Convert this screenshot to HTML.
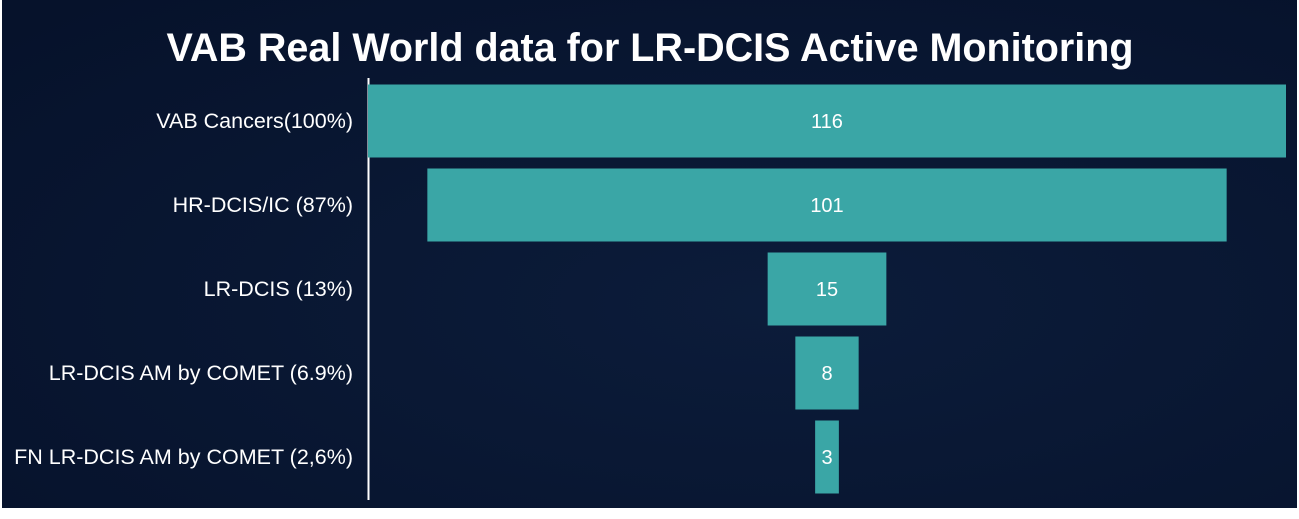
<!DOCTYPE html>
<html><head><meta charset="utf-8"><style>
html,body{margin:0;padding:0;background:#fff;}
body{width:1299px;height:514px;overflow:hidden;font-family:"Liberation Sans",Arial,sans-serif;}
</style></head><body>
<svg id="chart" width="1299" height="514" xmlns="http://www.w3.org/2000/svg">
<defs><radialGradient id="bg" cx="0.6" cy="0.6" r="0.8"><stop offset="0" stop-color="#0c1c3a"/><stop offset="1" stop-color="#06122b"/></radialGradient></defs>
<rect x="2" y="0" width="1295" height="508" fill="url(#bg)"/>
<text x="650" y="61" text-anchor="middle" fill="#fff" font-size="39.5" font-weight="bold">VAB Real World data for LR-DCIS Active Monitoring</text>
<line x1="368.5" y1="78" x2="368.5" y2="500" stroke="#fff" stroke-width="2"/>
<g id="bars"></g>
</svg>
<script>
const categories=["VAB Cancers(100%)","HR-DCIS/IC (87%)","LR-DCIS (13%)","LR-DCIS AM by COMET (6.9%)","FN LR-DCIS AM by COMET (2,6%)"];
const values=[116,101,15,8,3];
const maxValue=116;
const cx=827, fullW=918, top0=79, band=84, barH=73;
const xScale=v=>v/maxValue*fullW;
const yBand=i=>top0+i*band;
const g=document.getElementById('bars');
const NS="http://www.w3.org/2000/svg";
categories.forEach((c,i)=>{
  const w=xScale(values[i]), y=yBand(i)+(band-barH)/2;
  const r=document.createElementNS(NS,'rect');
  r.setAttribute('x',cx-w/2);r.setAttribute('y',y);r.setAttribute('width',w);r.setAttribute('height',barH);r.setAttribute('fill','#3aa6a6');
  
  
  g.appendChild(r);
  const t=document.createElementNS(NS,'text');
  t.setAttribute('x',cx);t.setAttribute('y',y+barH/2+7);t.setAttribute('text-anchor','middle');t.setAttribute('fill','#fff');t.setAttribute('font-size','20');
  t.textContent=values[i];
  
  
  g.appendChild(t);
  const l=document.createElementNS(NS,'text');
  l.setAttribute('x',353);l.setAttribute('y',y+barH/2+7);l.setAttribute('text-anchor','end');l.setAttribute('fill','#fff');l.setAttribute('font-size','21.5');
  l.textContent=c;
  
  
  g.appendChild(l);
});
</script>
</body></html>
